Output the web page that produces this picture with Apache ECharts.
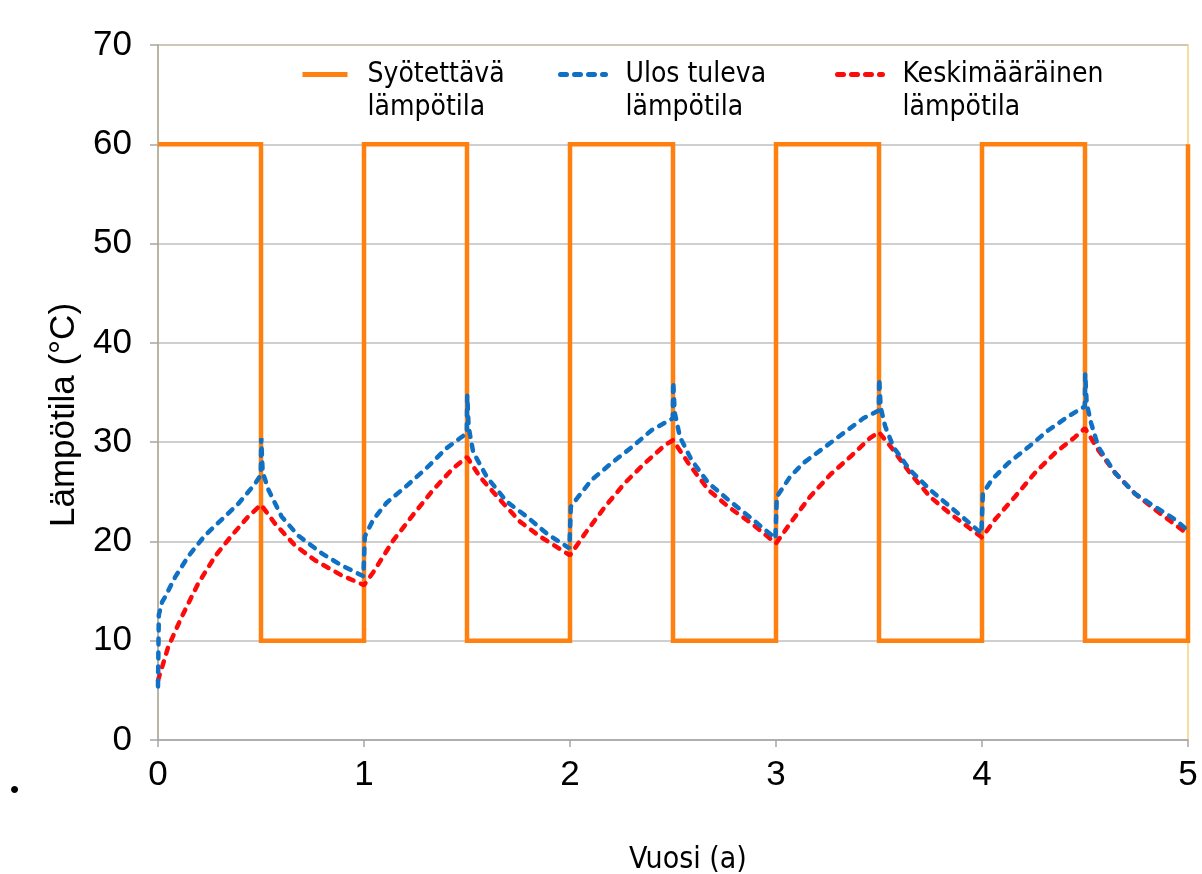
<!DOCTYPE html>
<html>
<head>
<meta charset="utf-8">
<script src="https://cdn.jsdelivr.net/npm/echarts@6/dist/echarts.min.js"></script>
<style>
html,body{margin:0;padding:0;background:#fff;}
#chart{width:1202px;height:874px;}
</style>
</head>
<body>
<div id="chart"></div>
<script>
// ---- data ----
const seriesNames = ['Syötettävä\nlämpötila', 'Ulos tuleva\nlämpötila', 'Keskimääräinen\nlämpötila'];
const xAxisTitle = 'Vuosi (a)';
const yAxisTitle = 'Lämpötila (°C)';
const xTicks = [0, 1, 2, 3, 4, 5];
const yTicks = [0, 10, 20, 30, 40, 50, 60, 70];

// Syötettävä lämpötila (square wave)
const feedT = [0, 0.5, 0.5, 1, 1, 1.5, 1.5, 2, 2, 2.5, 2.5, 3, 3, 3.5, 3.5, 4, 4, 4.5, 4.5, 5, 5];
const feedV = [60, 60, 10, 10, 60, 60, 10, 10, 60, 60, 10, 10, 60, 60, 10, 10, 60, 60, 10, 10, 60];

// Ulos tuleva lämpötila
const outT = [0, 0.004, 0.02, 0.034, 0.083, 0.147, 0.228, 0.309, 0.39, 0.471, 0.499, 0.501, 0.508, 0.536, 0.6, 0.68, 0.795, 0.89, 0.997,
  1.004, 1.045, 1.11, 1.207, 1.304, 1.401, 1.499, 1.501, 1.508, 1.53, 1.596, 1.693, 1.79, 1.887, 1.997,
  2.004, 2.04, 2.105, 2.202, 2.3, 2.396, 2.499, 2.501, 2.508, 2.534, 2.59, 2.671, 2.768, 2.882, 2.997,
  3.004, 3.068, 3.133, 3.23, 3.327, 3.424, 3.499, 3.501, 3.508, 3.53, 3.57, 3.65, 3.748, 3.845, 3.942, 3.997,
  4.004, 4.047, 4.128, 4.225, 4.322, 4.419, 4.499, 4.501, 4.508, 4.53, 4.565, 4.646, 4.743, 4.84, 4.937, 5.0];
const outV = [5.4, 12.6, 13.9, 14.4, 16.4, 18.5, 20.6, 22.2, 23.8, 25.8, 26.7, 30.4, 27.0, 25.2, 22.5, 20.6, 18.8, 17.6, 16.5,
  20.5, 22.2, 23.9, 25.6, 27.4, 29.4, 30.9, 34.7, 31.5, 29.0, 26.5, 24.0, 22.5, 20.8, 19.3,
  23.5, 24.5, 26.2, 27.9, 29.5, 31.2, 32.4, 36.1, 33.0, 30.5, 28.2, 25.9, 24.2, 22.3, 20.3,
  24.5, 26.5, 27.9, 29.4, 30.9, 32.4, 33.2, 36.4, 33.5, 31.6, 29.5, 27.2, 25.2, 23.5, 21.8, 20.8,
  24.8, 26.2, 27.9, 29.5, 31.2, 32.6, 33.6, 36.9, 33.9, 31.9, 29.5, 26.9, 24.8, 23.5, 22.2, 21.1];

// Keskimääräinen lämpötila
const meanT = [0, 0.05, 0.115, 0.196, 0.277, 0.358, 0.438, 0.5, 0.568, 0.665, 0.762, 0.89, 1.0,
  1.045, 1.142, 1.239, 1.336, 1.434, 1.5, 1.563, 1.66, 1.757, 1.854, 2.0,
  2.073, 2.17, 2.267, 2.364, 2.461, 2.5, 2.574, 2.671, 2.768, 2.882, 3.0,
  3.068, 3.165, 3.262, 3.359, 3.456, 3.5, 3.57, 3.65, 3.748, 3.845, 3.942, 4.0,
  4.063, 4.16, 4.257, 4.354, 4.451, 4.5, 4.565, 4.646, 4.743, 4.84, 4.937, 5.0];
const meanV = [6.0, 9.4, 12.4, 15.8, 18.5, 20.6, 22.5, 23.7, 21.8, 19.6, 18.1, 16.6, 15.6,
  16.9, 20.1, 22.7, 25.2, 27.4, 28.5, 26.5, 24.2, 22.0, 20.5, 18.6,
  20.8, 23.5, 25.9, 27.9, 29.7, 30.2, 27.9, 25.2, 23.5, 21.8, 19.8,
  21.8, 24.5, 26.7, 28.5, 30.4, 31.0, 29.2, 26.9, 24.5, 22.8, 21.3, 20.4,
  22.2, 24.5, 26.9, 28.9, 30.5, 31.4, 29.2, 26.9, 24.8, 23.2, 21.7, 20.7];

const zip = (a, b) => a.map((t, i) => [t, b[i]]);

const chart = echarts.init(document.getElementById('chart'), null, {renderer: 'canvas'});
const narrow = "'Liberation Sans Narrow', 'DejaVu Sans Condensed', 'Noto Sans', sans-serif";
const arial = "'Liberation Sans', Arial, sans-serif";

const legendBase = (name, left) => ({
  data: [name],
  left: left,
  top: 25,
  padding: 0,
  itemWidth: 45,
  itemHeight: 14,
  itemGap: 0,
  selectedMode: false,
  formatter: n => '\n' + n,
  itemStyle: {opacity: 0},
  lineStyle: {width: 5},
  textStyle: {
    fontFamily: narrow,
    fontSize: 28,
    lineHeight: 33,
    color: '#000',
    padding: [0, 0, 0, 15]
  }
});

chart.setOption({
  animation: false,
  backgroundColor: '#fff',
  grid: {
    left: 158, right: 14, top: 45, bottom: 134,
    containLabel: false, outerBoundsMode: 'none',
    show: true, borderColor: '#F2D57E', borderWidth: 1.5, backgroundColor: 'transparent'
  },
  legend: [
    legendBase(seriesNames[0], 300),
    legendBase(seriesNames[1], 558),
    legendBase(seriesNames[2], 835)
  ],
  xAxis: {
    type: 'value', min: xTicks[0], max: xTicks[xTicks.length - 1], interval: 1,
    axisLine: {show: true, onZero: false, lineStyle: {color: '#A6A6A6', width: 1.5}},
    axisTick: {show: true, length: 7, lineStyle: {color: '#A6A6A6', width: 1.5}},
    axisLabel: {fontFamily: arial, fontSize: 35, color: '#000', margin: 18},
    splitLine: {show: false}
  },
  yAxis: {
    type: 'value', min: yTicks[0], max: yTicks[yTicks.length - 1], interval: 10,
    axisLine: {show: true, lineStyle: {color: '#A6A6A6', width: 1.5}},
    axisTick: {show: true, length: 8, lineStyle: {color: '#A6A6A6', width: 1.5}},
    axisLabel: {fontFamily: arial, fontSize: 35, color: '#000', margin: 26},
    splitLine: {show: true, lineStyle: {color: '#BFBFBF', width: 1.5}}
  },
  graphic: [
    {
      type: 'text', left: 10, top: 778,
      style: {text: '•', fontSize: 26, fill: '#000', fontFamily: arial}
    },
    {
      type: 'text', x: 64, y: 415, rotation: Math.PI / 2,
      style: {text: yAxisTitle, fontSize: 35, fill: '#000', fontFamily: arial,
        align: 'center', verticalAlign: 'middle'}
    },
    {
      type: 'text', x: 688, y: 845,
      style: {text: xAxisTitle, fontSize: 30, fill: '#000', fontFamily: narrow,
        align: 'center', verticalAlign: 'top'}
    }
  ],
  series: [
    {
      name: seriesNames[0], type: 'line', data: zip(feedT, feedV),
      showSymbol: false, symbol: 'none',
      lineStyle: {color: '#FF7F0F', width: 4.5, type: 'solid', join: 'miter'},
      itemStyle: {color: '#FF7F0F'}, z: 2
    },
    {
      name: seriesNames[1], type: 'line', data: zip(outT, outV),
      showSymbol: false, symbol: 'none',
      lineStyle: {color: '#1070C4', width: 4.5, type: [6, 8], cap: 'round'},
      itemStyle: {color: '#1070C4'}, z: 4
    },
    {
      name: seriesNames[2], type: 'line', data: zip(meanT, meanV),
      showSymbol: false, symbol: 'none',
      lineStyle: {color: '#FF0A0A', width: 4.5, type: [6, 8], cap: 'round'},
      itemStyle: {color: '#FF0A0A'}, z: 3
    }
  ]
});
</script>
</body>
</html>
